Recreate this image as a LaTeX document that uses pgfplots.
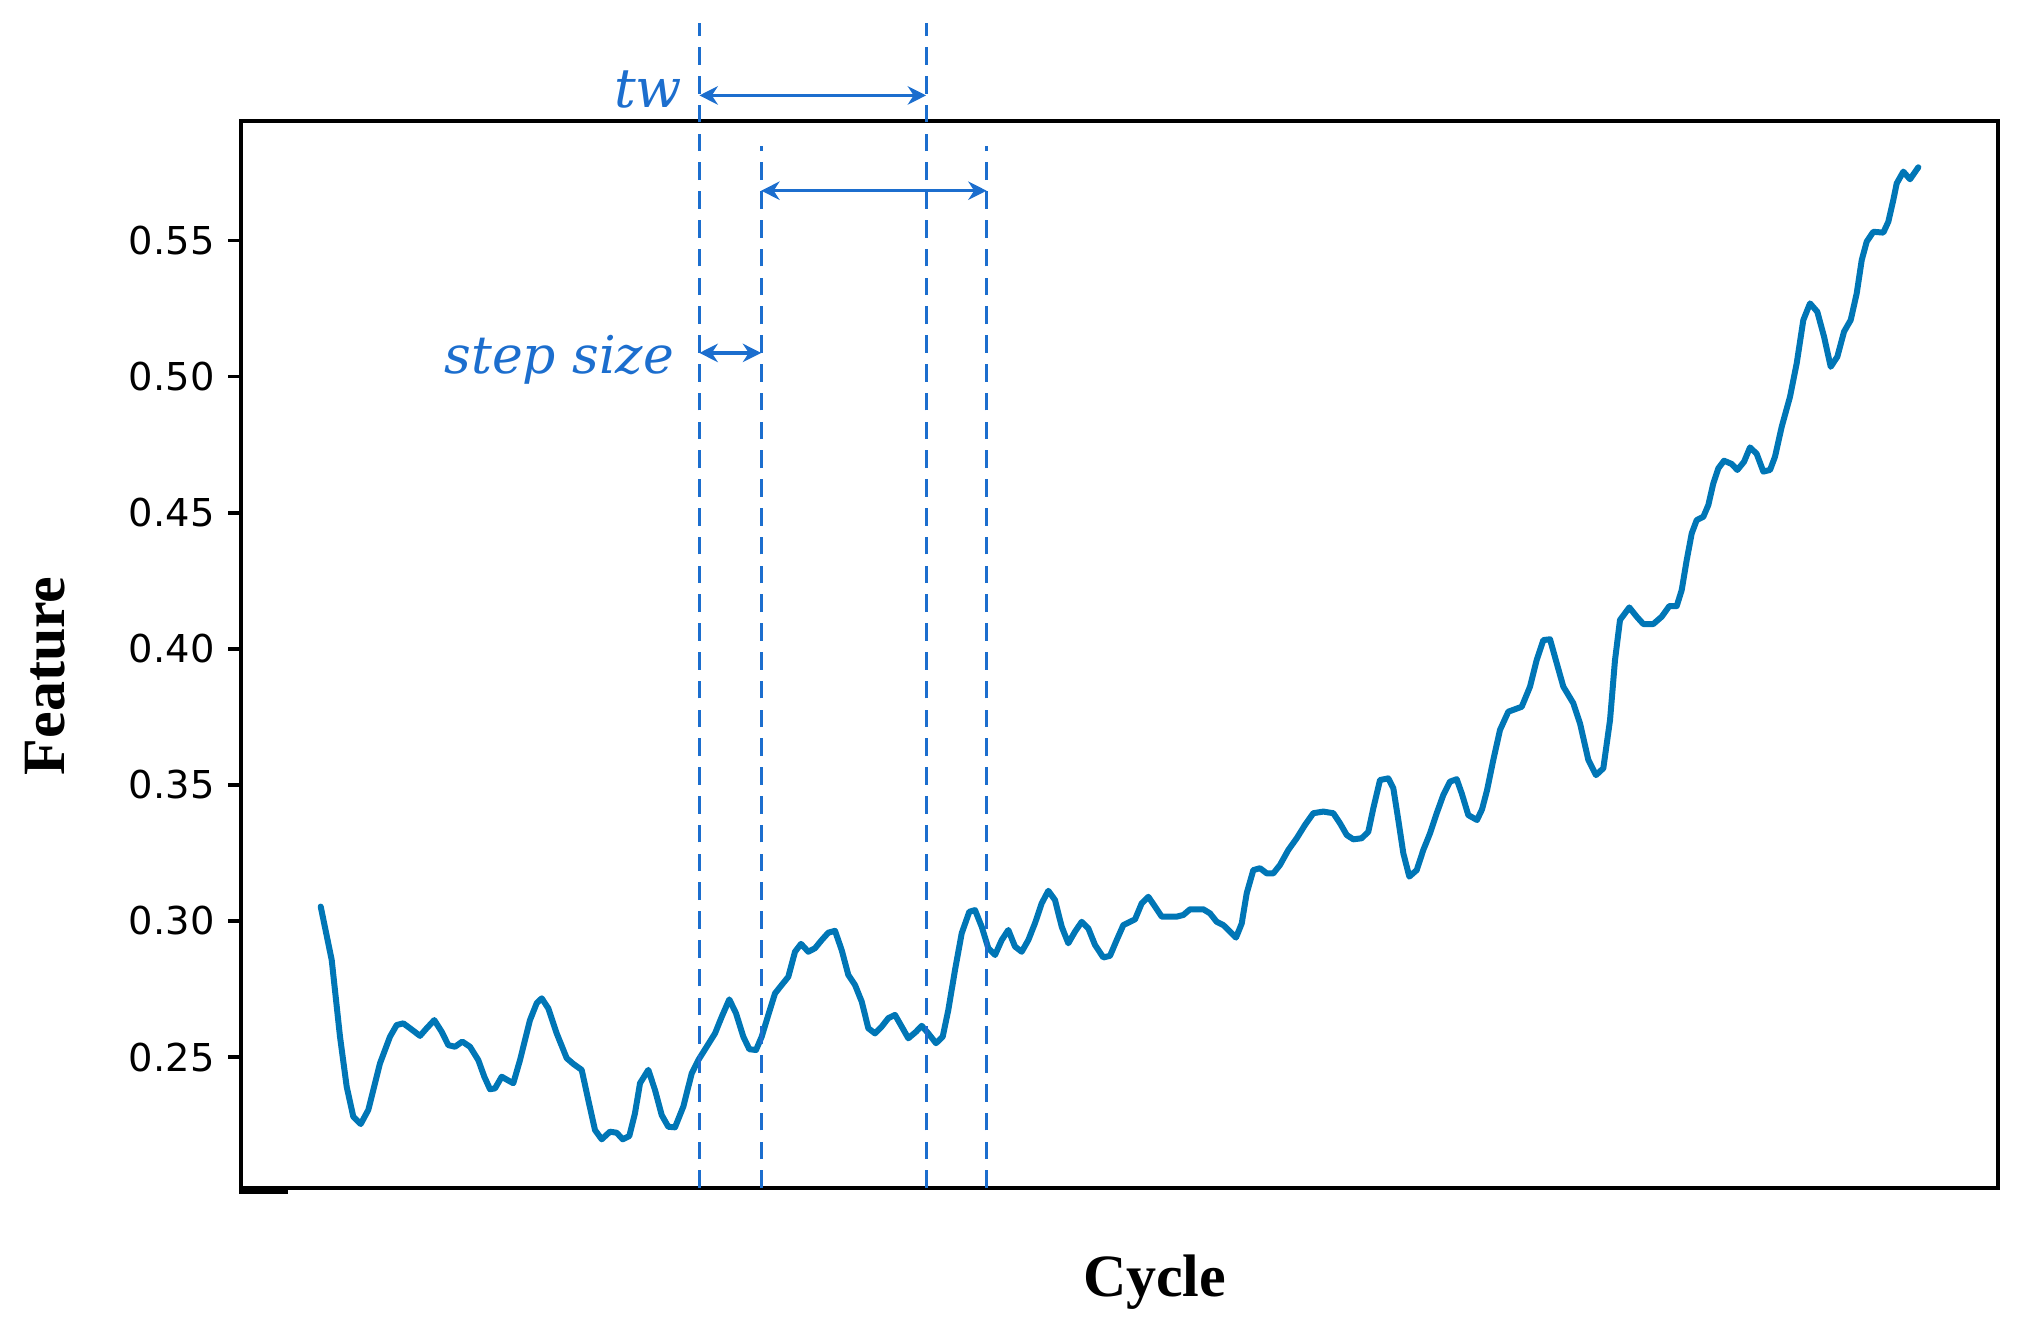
\documentclass[border=0pt]{standalone}
\usepackage{fontspec}
\setmainfont{DejaVu Sans}
\newfontfamily\labfont{Liberation Serif}
\newfontfamily\annfont{DejaVu Serif}
\usepackage{pgfplots}
\pgfplotsset{compat=1.18}
\usetikzlibrary{arrows.meta}
\definecolor{curve}{RGB}{0,118,182}
\definecolor{anno}{RGB}{28,110,206}
\pgfplotstableread{
x y
320.7 0.3053
331.7 0.2857
340.0 0.2575
346.7 0.2391
353.3 0.2281
360.7 0.2254
368.3 0.2306
380.0 0.2477
390.0 0.2575
396.7 0.2618
403.3 0.2624
410.0 0.2606
420.0 0.2578
426.7 0.2606
434.3 0.2636
441.7 0.2593
448.3 0.2544
455.0 0.2538
462.3 0.2557
470.0 0.2538
478.3 0.2489
484.3 0.2428
490.0 0.2382
495.0 0.2385
501.7 0.2428
507.3 0.2416
513.3 0.2404
520.0 0.2489
530.0 0.2636
536.7 0.2698
541.7 0.2716
548.3 0.2679
556.7 0.2587
566.7 0.2496
573.3 0.2475
581.7 0.2453
588.3 0.2342
595.0 0.2232
601.7 0.2198
610.0 0.2226
616.7 0.2222
622.7 0.2198
629.3 0.2210
635.0 0.2294
640.0 0.2404
648.3 0.2453
655.0 0.2379
661.7 0.2287
668.3 0.2244
675.0 0.2242
683.3 0.2318
691.7 0.2440
698.3 0.2489
715.0 0.2587
721.7 0.2648
729.3 0.2712
736.0 0.2661
743.3 0.2575
749.3 0.2529
756.0 0.2526
761.7 0.2575
768.3 0.2655
775.0 0.2734
781.7 0.2765
788.3 0.2795
795.0 0.2887
801.0 0.2916
808.3 0.2887
815.0 0.2900
821.7 0.2930
828.3 0.2957
835.0 0.2964
841.7 0.2893
848.3 0.2802
855.0 0.2765
861.7 0.2704
868.3 0.2606
875.0 0.2587
881.7 0.2612
888.3 0.2643
895.0 0.2655
901.7 0.2612
908.3 0.2569
916.0 0.2593
921.7 0.2615
928.3 0.2587
936.0 0.2551
942.7 0.2575
948.3 0.2673
955.0 0.2820
961.7 0.2955
969.3 0.3034
975.0 0.3040
981.7 0.2979
988.3 0.2900
995.0 0.2875
1001.7 0.2930
1008.3 0.2967
1015.0 0.2906
1021.7 0.2887
1028.3 0.2930
1035.0 0.2992
1041.7 0.3065
1048.3 0.3111
1055.0 0.3077
1061.7 0.2979
1068.3 0.2918
1075.0 0.2961
1081.7 0.2997
1088.3 0.2973
1095.0 0.2912
1103.3 0.2866
1110.0 0.2872
1116.7 0.2930
1123.3 0.2985
1135.0 0.3006
1141.7 0.3065
1148.3 0.3089
1155.0 0.3053
1161.7 0.3016
1176.7 0.3016
1183.3 0.3022
1190.0 0.3043
1203.3 0.3043
1210.0 0.3028
1216.7 0.2997
1223.3 0.2985
1230.0 0.2961
1236.0 0.2939
1241.7 0.2991
1246.7 0.3102
1253.3 0.3187
1260.0 0.3194
1266.7 0.3175
1273.3 0.3175
1280.0 0.3206
1288.3 0.3261
1296.7 0.3304
1305.0 0.3353
1313.3 0.3396
1323.3 0.3402
1333.3 0.3396
1340.0 0.3359
1346.7 0.3316
1353.3 0.3300
1361.7 0.3304
1368.3 0.3328
1373.3 0.3414
1380.0 0.3518
1388.3 0.3524
1393.3 0.3488
1398.3 0.3371
1403.3 0.3249
1409.3 0.3163
1416.7 0.3187
1423.3 0.3261
1430.0 0.3322
1436.7 0.3396
1443.3 0.3463
1450.0 0.3512
1456.7 0.3521
1461.7 0.3469
1468.3 0.3389
1477.0 0.3371
1482.0 0.3410
1487.0 0.3480
1493.3 0.3592
1500.0 0.3702
1508.3 0.3769
1521.7 0.3787
1530.0 0.3861
1536.7 0.3959
1543.3 0.4032
1550.0 0.4035
1556.7 0.3947
1563.3 0.3861
1573.3 0.3800
1580.0 0.3726
1588.3 0.3592
1596.0 0.3536
1603.3 0.3561
1610.0 0.3738
1615.0 0.3959
1620.0 0.4106
1629.3 0.4152
1636.7 0.4118
1643.3 0.4091
1653.3 0.4091
1661.7 0.4118
1669.3 0.4157
1676.7 0.4157
1681.7 0.4216
1686.7 0.4326
1691.7 0.4424
1696.7 0.4473
1703.3 0.4485
1708.3 0.4528
1713.3 0.4608
1718.3 0.4663
1724.0 0.4691
1731.7 0.4679
1737.3 0.4657
1744.0 0.4687
1750.0 0.4740
1756.7 0.4716
1763.3 0.4651
1770.0 0.4657
1775.0 0.4706
1781.7 0.4816
1790.0 0.4926
1796.7 0.5049
1803.3 0.5208
1810.0 0.5269
1817.3 0.5238
1824.0 0.5147
1830.7 0.5036
1837.3 0.5073
1844.0 0.5165
1850.7 0.5208
1856.7 0.5306
1861.7 0.5428
1866.7 0.5496
1873.3 0.5532
1883.3 0.5529
1888.3 0.5569
1893.3 0.5649
1896.7 0.5710
1903.3 0.5753
1910.0 0.5725
1918.3 0.5769
}\featuredata
\begin{document}
\begin{tikzpicture}
\path[use as bounding box] (-60.25pt,-36pt) rectangle (444.75pt,297pt);
\begin{axis}[
  at={(0,0)}, anchor=south west,
  scale only axis, width=439.25pt, height=266.75pt,
  xmin=241, xmax=1998, ymin=0.2019, ymax=0.5939,
  xtick=\empty,
  ytick={0.25,0.30,0.35,0.40,0.45,0.50,0.55},
  ytick pos=left,
  tick align=outside,
  major tick length=3.2pt,
  every tick/.style={black, line width=0.9pt},
  axis line style={line width=1.1pt},
  yticklabel style={font=\fontsize{9.6}{11}\selectfont, xshift=0.1pt,
    /pgf/number format/.cd, fixed, fixed zerofill, precision=2, assume math mode=true},
  xlabel={Cycle},
  xlabel style={at={(axis description cs:0.52,-0.0881)}, anchor=center,
    font=\labfont\bfseries\fontsize{15}{17}\selectfont},
  ylabel={Feature},
  ylabel style={at={(axis description cs:-0.1116,0.48)}, anchor=center,
    font=\labfont\bfseries\fontsize{15}{17}\selectfont},
  clip=false,
]
\addplot[curve, line width=1.5pt, line join=round, line cap=round] table[x=x,y=y] {\featuredata};
% sliding window annotation
\begin{scope}[anno, line width=0.8pt, dash pattern=on 4.4pt off 2.8pt]
\draw (axis cs:699.4,0.2019) -- (axis cs:699.4,0.6299);
\draw (axis cs:926.1,0.2019) -- (axis cs:926.1,0.6299);
\draw (axis cs:761.2,0.2019) -- (axis cs:761.2,0.5847);
\draw (axis cs:986.6,0.2019) -- (axis cs:986.6,0.5847);
\end{scope}
\begin{scope}[anno, line width=0.9pt, {Stealth[length=4.6pt,width=4.6pt]}-{Stealth[length=4.6pt,width=4.6pt]}]
\draw (axis cs:699.4,0.6033) -- (axis cs:926.1,0.6033);
\draw (axis cs:761.2,0.5683) -- (axis cs:986.6,0.5683);
\draw (axis cs:699.4,0.5087) -- (axis cs:761.2,0.5087);
\end{scope}
\node[anno, anchor=base east, inner sep=0pt, font=\annfont\itshape\fontsize{13.5}{15}\selectfont]
  at (axis cs:683,0.5987) {tw};
\node[anno, anchor=base east, inner sep=0pt, font=\annfont\itshape\fontsize{13}{15}\selectfont]
  at (axis cs:675,0.5013) {step size};
\draw[black, line width=1pt] (axis cs:241,0.2019) ++(-0.5pt,-1pt) -- ++(12.25pt,0pt);
\end{axis}
\end{tikzpicture}
\end{document}
